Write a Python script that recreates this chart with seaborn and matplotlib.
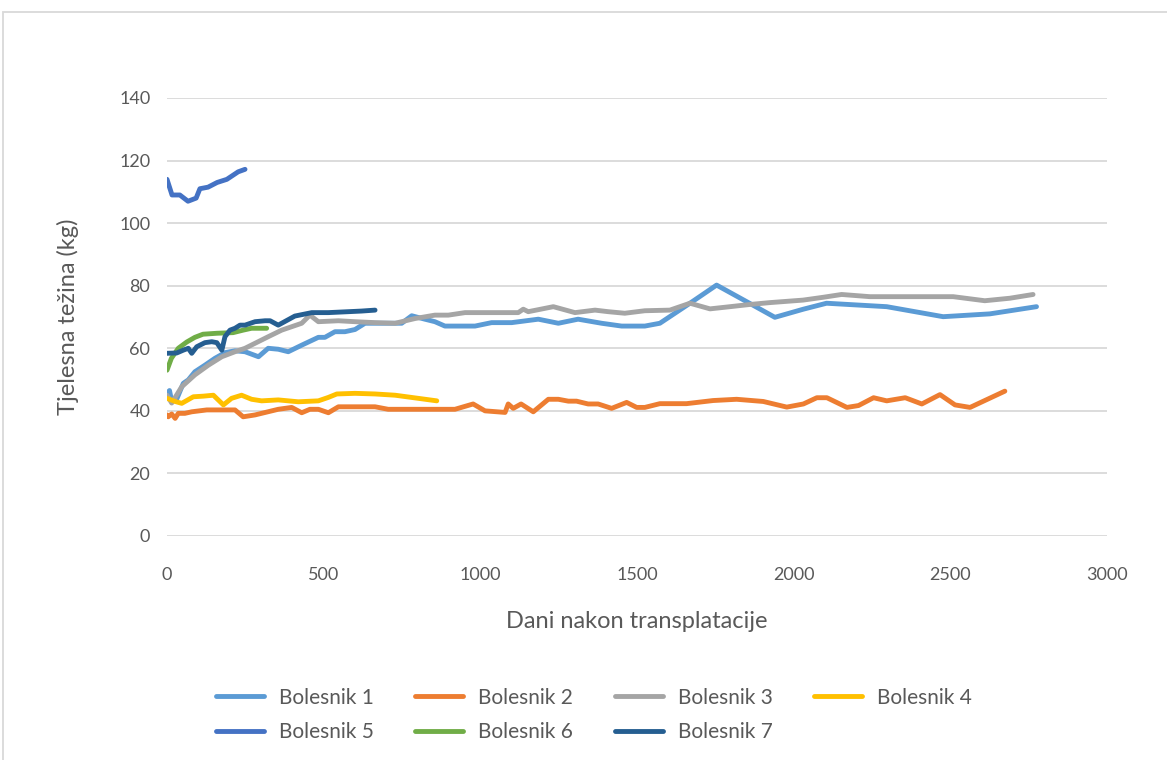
import numpy as np
import pandas as pd
import matplotlib
matplotlib.use("Agg")
import matplotlib.pyplot as plt
import seaborn as sns
from matplotlib.patches import Rectangle

##### data (days after transplant, body weight kg) #####
names = ["Bolesnik 1", "Bolesnik 2", "Bolesnik 3", "Bolesnik 4",
         "Bolesnik 5", "Bolesnik 6", "Bolesnik 7"]
colors = ["#5B9BD5", "#ED7D31", "#A5A5A5", "#FFC000",
          "#4472C4", "#70AD47", "#255E91"]

days_1 = [0, 8, 15, 30, 52, 68, 89, 121, 153, 185, 217, 249, 292, 323, 355, 387,
          430, 483, 504, 536, 568, 600, 632, 749, 781, 823, 855, 887, 983, 1036,
          1100, 1185, 1249, 1312, 1387, 1451, 1525, 1573, 1669, 1754, 1850, 1940,
          2031, 2105, 2297, 2477, 2626, 2775]
kg_1 = [45.5, 46.5, 43, 43.5, 48.8, 49.9, 52.5, 54.6, 56.8, 58.6, 59.2, 58.9, 57.3,
        60, 59.7, 58.9, 61, 63.5, 63.5, 65.3, 65.3, 66, 68, 68, 70.4, 69.3, 68.5,
        67.1, 67.1, 68.2, 68.2, 69.3, 68, 69.3, 68, 67.1, 67.1, 68, 74.4, 80.2,
        74.9, 69.9, 72.5, 74.4, 73.3, 70.1, 71, 73.3]

days_2 = [0, 4, 15, 26, 36, 57, 79, 127, 217, 243, 281, 355, 398, 430, 456, 483,
          515, 547, 664, 706, 919, 977, 1015, 1079, 1089, 1105, 1130, 1169, 1217,
          1249, 1281, 1307, 1344, 1376, 1419, 1467, 1499, 1525, 1573, 1658, 1743,
          1818, 1903, 1978, 2031, 2074, 2106, 2170, 2207, 2255, 2297, 2356, 2409,
          2467, 2515, 2563, 2674]
kg_2 = [38.7, 38.1, 39, 37.6, 39.2, 39.2, 39.7, 40.3, 40.3, 38.1, 38.7, 40.5, 41.1,
        39.4, 40.5, 40.5, 39.4, 41.3, 41.3, 40.5, 40.5, 42.2, 40, 39.5, 42.2, 40.8,
        42.2, 39.7, 43.7, 43.7, 43.1, 43.1, 42.2, 42.2, 40.8, 42.7, 41.1, 41.1,
        42.3, 42.3, 43.3, 43.7, 43.0, 41.2, 42.2, 44.2, 44.2, 41.1, 41.7, 44.2,
        43.2, 44.2, 42.2, 45.2, 41.9, 41.1, 46.3]

days_3 = [0, 15, 47, 89, 132, 175, 217, 249, 281, 323, 366, 398, 430, 456, 483,
          547, 600, 664, 728, 791, 855, 898, 951, 993, 1047, 1121, 1137, 1153,
          1233, 1302, 1366, 1408, 1461, 1525, 1605, 1669, 1733, 1797, 1860, 1924,
          2030, 2094, 2153, 2243, 2307, 2509, 2610, 2690, 2764]
kg_3 = [45, 42.5, 47.7, 51.5, 54.6, 57.3, 58.9, 60, 61.6, 63.7, 65.8, 66.9, 68,
        70.6, 68.5, 68.8, 68.5, 68.2, 68, 69.5, 70.6, 70.6, 71.4, 71.4, 71.4, 71.4,
        72.5, 71.7, 73.3, 71.4, 72.2, 71.7, 71.2, 72, 72.2, 74.4, 72.6, 73.3, 74,
        74.6, 75.4, 76.3, 77.2, 76.5, 76.5, 76.5, 75.2, 76, 77.2]

days_4 = [0, 26, 47, 84, 116, 148, 180, 206, 238, 270, 302, 355, 419, 483, 515,
          542, 600, 664, 728, 802, 861]
kg_4 = [44, 43, 42.4, 44.5, 44.7, 45, 41.9, 44, 45, 43.7, 43.2, 43.5, 42.9, 43.2,
        44.3, 45.4, 45.6, 45.4, 45, 44, 43.2]

days_5 = [0, 16, 41, 67, 93, 105, 131, 160, 191, 227, 249]
kg_5 = [114, 109, 109, 107, 108, 111, 111.5, 113, 114, 116.4, 117.2]

days_6 = [0, 14, 36, 63, 89, 115, 159, 211, 243, 270, 318]
kg_6 = [53, 56.8, 60, 62, 63.5, 64.5, 64.8, 65, 65.8, 66.4, 66.4]

days_7 = [0, 31, 52, 68, 79, 95, 121, 143, 159, 175, 185, 201, 217, 233, 249, 281,
          313, 329, 355, 408, 462, 515, 579, 621, 664]
kg_7 = [58.4, 58.5, 59.4, 60, 58.4, 60.5, 61.8, 62.1, 61.8, 59.4, 63.7, 65.8,
        66.4, 67.4, 67.4, 68.5, 68.8, 68.8, 67.4, 70.3, 71.4, 71.4, 71.7, 71.9, 72.2]

all_days = [days_1, days_2, days_3, days_4, days_5, days_6, days_7]
all_kg = [kg_1, kg_2, kg_3, kg_4, kg_5, kg_6, kg_7]

frames = []
for n, d, k in zip(names, all_days, all_kg):
    frames.append(pd.DataFrame({"dan": d, "kg": k, "bolesnik": n}))
df = pd.concat(frames, ignore_index=True)

##### plot #####
sns.set_style("white")
plt.rcParams['font.family'] = ['Lato', 'DejaVu Sans']
text_col = "#595959"

fig = plt.figure(figsize=(11.67, 7.6), dpi=100)
ax = fig.add_axes([167/1167, 1-536/760, 940/1167, 438/760])

sns.lineplot(data=df, x="dan", y="kg", hue="bolesnik", palette=colors,
             hue_order=names, sort=False, estimator=None, linewidth=3.5,
             ax=ax, legend=True)

ax.set_xlim(0, 3000)
ax.set_ylim(0, 140)
ax.set_xticks(range(0, 3001, 500))
ax.set_yticks(range(0, 141, 20))
ax.yaxis.grid(True, color="#D9D9D9", linewidth=1.3)
ax.set_axisbelow(True)
for s in ax.spines.values():
    s.set_visible(False)
ax.tick_params(axis="both", length=0, labelsize=13, labelcolor=text_col)
ax.tick_params(axis="x", pad=22)
ax.tick_params(axis="y", pad=12)

ax.set_xlabel("Dani nakon transplatacije", fontsize=17, color=text_col, va="center")
ax.xaxis.set_label_coords(0.5, (536-622)/438)
ax.set_ylabel("Tjelesna težina (kg)", fontsize=17, color=text_col, va="center")
ax.yaxis.set_label_coords((68-167)/940, 0.5)

# legend in two rows, row-major like the original
handles, labels = ax.get_legend_handles_labels()
ax.get_legend().remove()
order = [0, 4, 1, 5, 2, 6, 3]
leg = fig.legend([handles[i] for i in order], [labels[i] for i in order],
                 ncol=4, loc="center", bbox_to_anchor=(594/1167, 1-715/760),
                 frameon=False, fontsize=15, handlelength=2.3,
                 handletextpad=0.72, columnspacing=2.0, labelspacing=0.7)
for t in leg.get_texts():
    t.set_color(text_col)
for h in leg.get_lines():
    h.set_linewidth(3.5)

# chart area border
fig.patches.append(Rectangle((3/1167, -0.1), 1.2, 1-12/760+0.1,
                             transform=fig.transFigure, fill=False,
                             edgecolor="#D9D9D9", linewidth=1.3))

fig.savefig("out.png", dpi=100, facecolor="white")
